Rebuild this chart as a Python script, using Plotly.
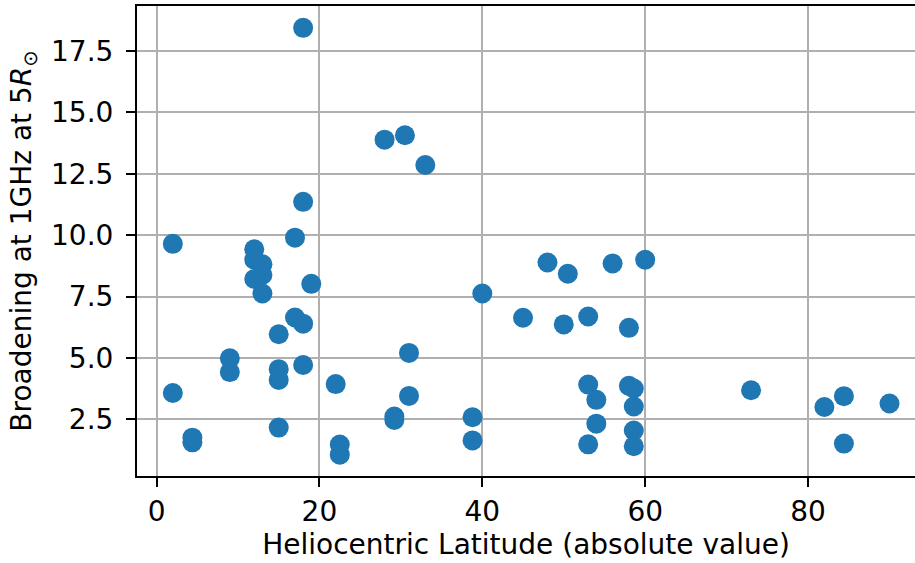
import plotly.graph_objects as go

# Heliocentric latitude (absolute value, degrees) of each source
latitude = [
    18, 28, 30.5, 33, 18, 2, 17, 12, 12, 13, 12, 13, 13, 19, 40,
    17, 18, 15, 9, 9, 15, 15, 18, 31, 2, 22, 31, 29.2, 29.2, 38.8,
    38.8, 4.4, 4.4, 15, 22.5, 22.5, 48, 50.5, 56, 60, 45, 50, 53, 58,
    53, 54, 54, 53, 58, 58.6, 58.6, 58.6, 58.6, 73, 82, 84.4, 84.4, 90,
]

# Broadening at 1 GHz scaled to 5 solar radii
broadening = [
    18.44, 13.89, 14.07, 12.86, 11.36, 9.65, 9.90, 9.43, 9.00, 8.82, 8.22, 8.38, 7.63, 8.02, 7.63,
    6.65, 6.40, 5.97, 4.99, 4.43, 4.55, 4.11, 4.72, 5.21, 3.58, 3.94, 3.46, 2.62, 2.48, 2.59,
    1.65, 1.76, 1.57, 2.17, 1.48, 1.07, 8.89, 8.43, 8.85, 9.00, 6.64, 6.37, 6.69, 6.23,
    3.92, 3.30, 2.33, 1.49, 3.87, 3.76, 3.03, 2.05, 1.41, 3.69, 3.01, 3.45, 1.52, 3.15,
]

x_ticks = [0, 20, 40, 60, 80]
y_ticks = [2.5, 5.0, 7.5, 10.0, 12.5, 15.0, 17.5]

FONT = "DejaVu Sans"
FSIZE = 28
GRID = "#b0b0b0"

fig = go.Figure(
    go.Scatter(
        x=latitude,
        y=broadening,
        mode="markers",
        marker=dict(color="#1f77b4", size=20, line=dict(width=0)),
        hoverinfo="x+y",
    )
)

fig.update_layout(
    width=915,
    height=563,
    margin=dict(l=137, r=0, t=6, b=87),
    paper_bgcolor="white",
    plot_bgcolor="white",
    showlegend=False,
    font=dict(family=FONT, size=FSIZE, color="black"),
)

fig.update_xaxes(
    range=[-2.4, 93.13],
    tickvals=x_ticks,
    ticktext=[str(v) for v in x_ticks],
    ticks="outside",
    ticklen=9,
    tickwidth=2,
    tickcolor="black",
    showline=True,
    linecolor="black",
    linewidth=2,
    mirror=True,
    showgrid=True,
    gridcolor=GRID,
    gridwidth=2,
    zeroline=False,
    tickfont=dict(family=FONT, size=FSIZE),
    ticklabelstandoff=0,
    title=dict(
        text="Heliocentric Latitude (absolute value)",
        font=dict(family=FONT, size=FSIZE),
        standoff=8,
    ),
)

fig.update_yaxes(
    range=[0.2, 19.33],
    tickvals=y_ticks,
    ticktext=[f"{v:.1f}" for v in y_ticks],
    ticks="outside",
    ticklen=9,
    tickwidth=2,
    tickcolor="black",
    showline=True,
    linecolor="black",
    linewidth=2,
    mirror=False,
    showgrid=True,
    gridcolor=GRID,
    gridwidth=2,
    zeroline=False,
    tickfont=dict(family=FONT, size=FSIZE),
    ticklabelstandoff=7,
    title=dict(
        text="Broadening at 1GHz at 5<i>R</i><sub>⊙</sub>",
        font=dict(family=FONT, size=FSIZE),
        standoff=11,
    ),
)

fig.write_html("out.html")
